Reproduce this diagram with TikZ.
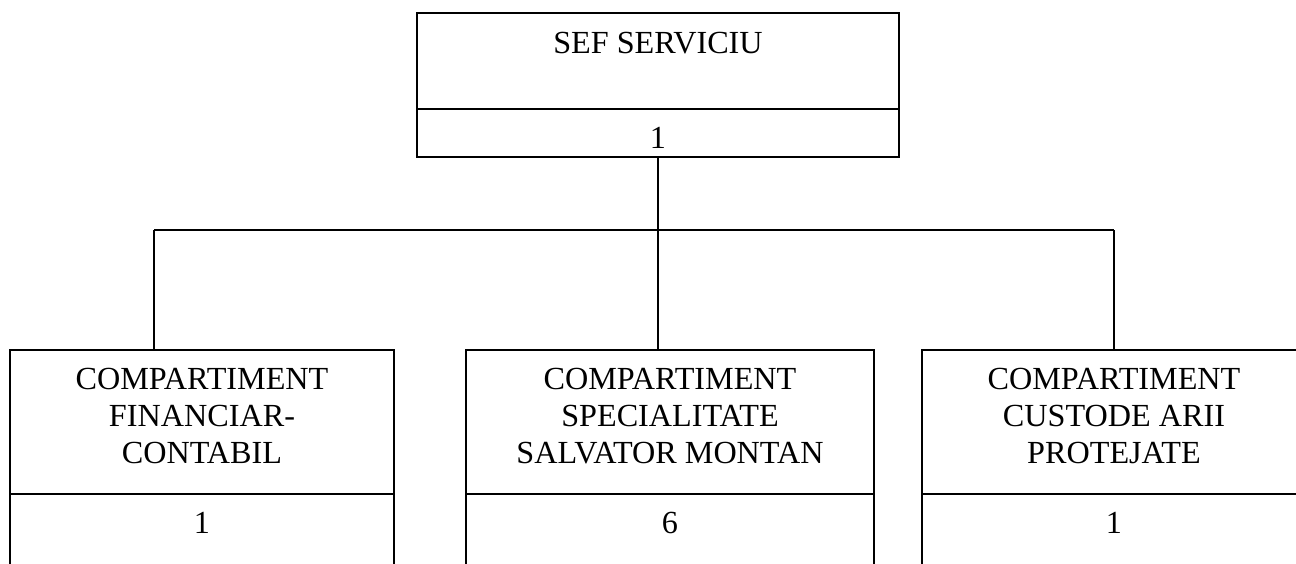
\documentclass[tikz,border=0pt]{standalone}
\usepackage{fontspec}
\setmainfont{Liberation Serif}
\begin{document}
\begin{tikzpicture}[x=1pt,y=-1pt,
  box/.style={draw,line width=1.6pt,rectangle,inner sep=0pt,outer sep=0pt},
  lbl/.style={anchor=base,inner sep=0pt,font=\fontsize{32.2}{37}\selectfont},
  conn/.style={line width=1.6pt}]
\useasboundingbox (0,0) rectangle (1296,563);
\clip (0,0) rectangle (1296,563);
% boxes
\node[box,minimum width=482pt,minimum height=144pt] (top) at (658,85) {};
\node[box,minimum width=384pt,minimum height=230pt] (fin) at (202,465) {};
\node[box,minimum width=408pt,minimum height=230pt] (spec) at (670,465) {};
\node[box,minimum width=384pt,minimum height=230pt] (cust) at (1114,465) {};
% dividers
\draw[conn] (top.west |- 0,109) -- (top.east |- 0,109);
\draw[conn] (fin.west |- 0,494) -- (fin.east |- 0,494);
\draw[conn] (spec.west |- 0,494) -- (spec.east |- 0,494);
\draw[conn] (cust.west |- 0,494) -- (cust.east |- 0,494);
% texts
\node[lbl] (t0) at (658,53) {SEF SERVICIU};
\node[lbl] (n0) at (658,148) {1};
\node[lbl] (f1) at (202,389) {COMPARTIMENT};
\node[lbl] (f2) at (202,426) {FINANCIAR-};
\node[lbl] (f3) at (202,463) {CONTABIL};
\node[lbl] (fn) at (202,533) {1};
\node[lbl] (s1) at (670,389) {COMPARTIMENT};
\node[lbl] (s2) at (670,426) {SPECIALITATE};
\node[lbl] (s3) at (670,463) {SALVATOR MONTAN};
\node[lbl] (sn) at (670,533) {6};
\node[lbl] (c1) at (1114,389) {COMPARTIMENT};
\node[lbl] (c2) at (1114,426) {CUSTODE ARII};
\node[lbl] (c3) at (1114,463) {PROTEJATE};
\node[lbl] (cn) at (1114,533) {1};
% connectors
\coordinate (jm) at (658,230);
\coordinate (jl) at (154,230);
\coordinate (jr) at (1114,230);
\draw[conn] (top.south) -- (jm);
\draw[conn] (jl) -- (jr);
\draw[conn] (jl) -- (jl |- fin.north);
\draw[conn] (jm) -- (jm |- spec.north);
\draw[conn] (jr) -- (cust.north);
\end{tikzpicture}
\end{document}
